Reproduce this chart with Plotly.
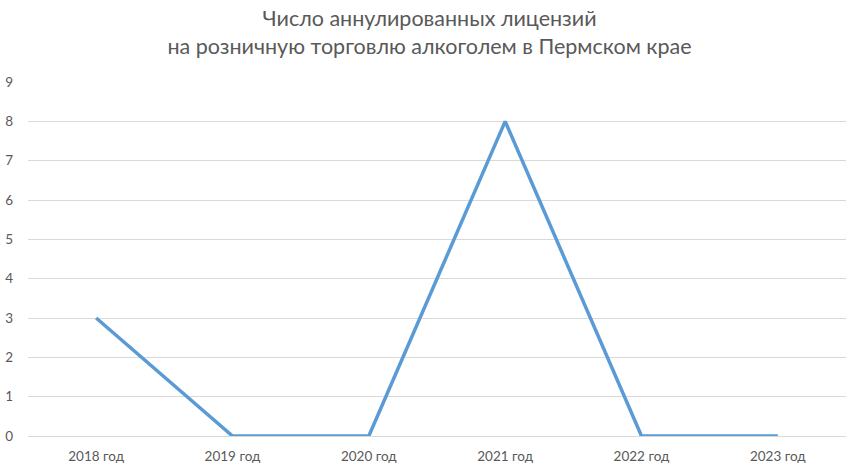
import plotly.graph_objects as go

years = ["2018 год", "2019 год", "2020 год", "2021 год", "2022 год", "2023 год"]
licenses = [3, 0, 0, 8, 0, 0]
y_ticks = [0, 1, 2, 3, 4, 5, 6, 7, 8, 9]
title_lines = ["Число аннулированных лицензий",
               "на розничную торговлю алкоголем в Пермском крае"]

fig = go.Figure()
fig.add_trace(go.Scatter(
    x=years, y=licenses, mode="lines",
    line=dict(color="#5B9BD5", width=3.5),
    hoverinfo="x+y",
))

fig.update_layout(
    width=859, height=476,
    paper_bgcolor="white", plot_bgcolor="white",
    margin=dict(l=28, r=13, t=82, b=40, autoexpand=False),
    showlegend=False,
    font=dict(family="Lato, Open Sans, sans-serif", color="#595959", size=13.5),
    title=dict(
        text="<br>".join(title_lines),
        x=0.5, xanchor="center",
        y=1 - 26 / 476, yanchor="middle", yref="container",
        font=dict(family="Lato, Open Sans, sans-serif", size=21.5, color="#595959"),
    ),
    xaxis=dict(
        type="category", range=[-0.5, 5.5], automargin=False,
        showgrid=False, showline=False, zeroline=False,
        ticks="", tickfont=dict(size=13.5, color="#595959"),
        ticklabelstandoff=10,
    ),
    yaxis=dict(
        range=[0, 9], tickvals=y_ticks, automargin=False,
        showgrid=True, gridcolor="#d9d9d9", gridwidth=1,
        zeroline=True, zerolinecolor="#d9d9d9", zerolinewidth=1,
        showline=False, ticks="",
        tickfont=dict(size=13.5, color="#595959"),
        ticklabelstandoff=14,
    ),
)

fig.write_html("out.html", config={"displayModeBar": False},
               post_script="document.body.style.margin='0';")
